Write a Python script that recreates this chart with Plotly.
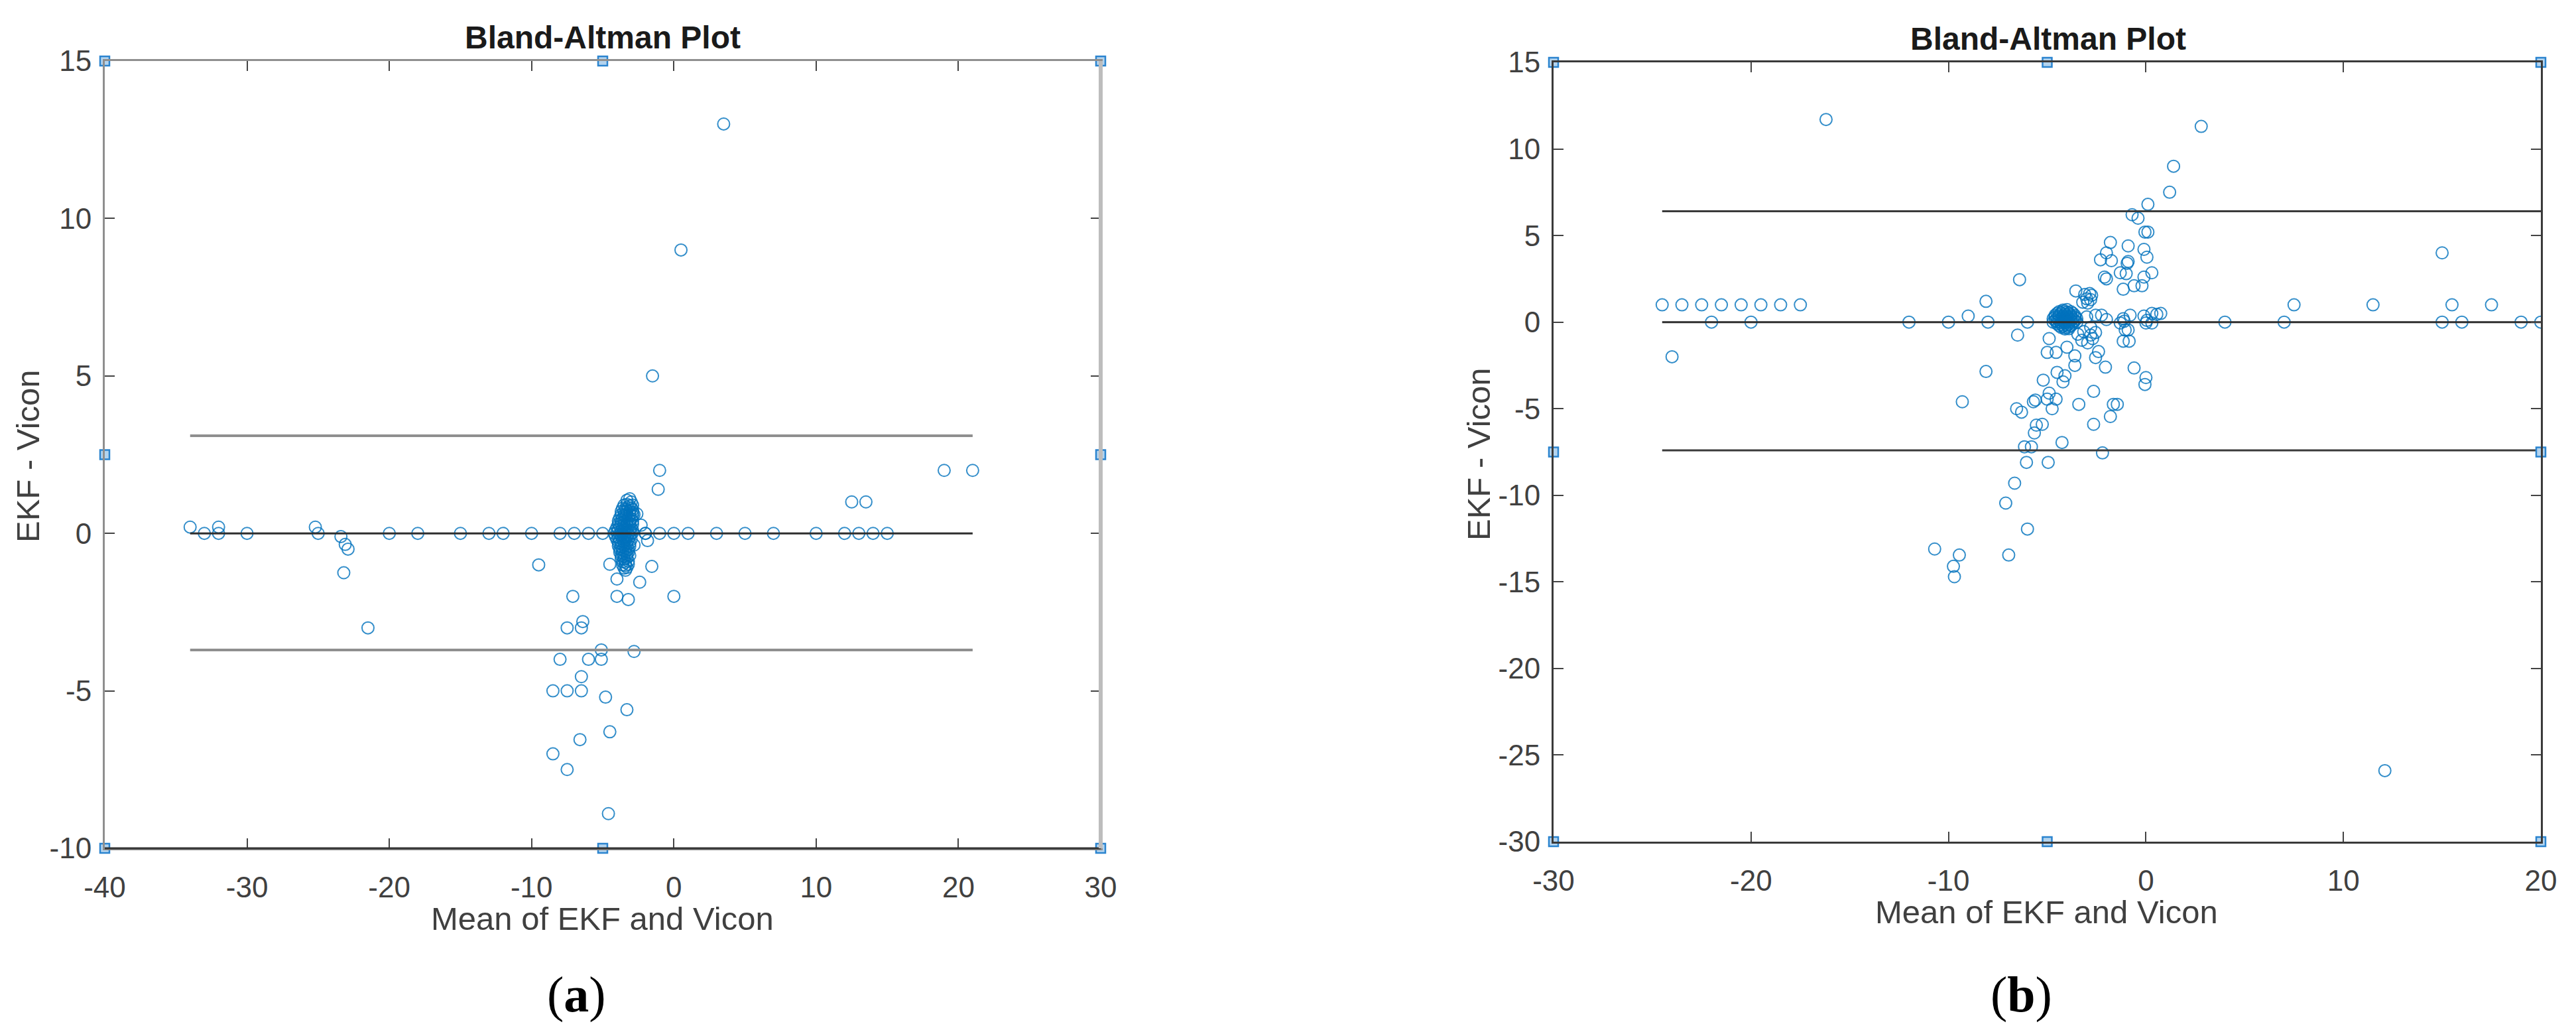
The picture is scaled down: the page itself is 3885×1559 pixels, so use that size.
import plotly.graph_objects as go

# ---------------- data: panel (a) ----------------
a_x = [3.5, 0.5, -1.5, -1.0, -1.1, 19, 21, 12.5, 13.5,
       -33, -32, -30, -25, -20, -18, -15, -13, -12, -10, -8, -7, -6, -5,
       -2, -1, 0, 1, 3, 5, 7, 10, 12, 13, 14, 15,
       -34, -32, -25.2, -23.4, -23.1, -22.9, -23.2, -21.5,
       -9.5, -7.1, -7.5, -6.4, -6.5, -8.0, -6.0, -5.1, -5.1, -6.5,
       -8.5, -7.5, -6.5, -4.8, -3.3, -4.5, -6.6, -8.5, -7.5, -4.6,
       -2.8, 0.0, -4.0, -3.2, -4.0, -2.4, -1.55, -4.5, -1.85, -2.3,
       -2.0, -2.8, -2.6, -3.4]
a_y = [13, 9, 5, 2, 1.4, 2, 2, 1, 1,
       0, 0, 0, 0, 0, 0, 0, 0, 0, 0, 0, 0, 0, 0,
       0, 0, 0, 0, 0, 0, 0, 0, 0, 0, 0, 0,
       0.2, 0.2, 0.2, -0.1, -0.35, -0.5, -1.25, -3.0,
       -1.0, -2.0, -3.0, -2.8, -3.0, -4.0, -4.0, -3.7, -4.0, -4.55,
       -5.0, -5.0, -5.0, -5.2, -5.6, -6.3, -6.55, -7.0, -7.5, -8.9,
       -3.75, -2.0, -2.0, -2.1, -1.45, -1.55, -1.05, -0.98, -0.23, 0.26,
       0.0, -0.37, 0.62, -1.17]

# dense cluster of panel (a)
a_cx = [-3.3, -3.1, -3.0, -3.5, -3.3, -3.1, -2.9, -3.6, -3.4, -3.2, -3.0, -2.9,
        -3.7, -3.5, -3.3, -3.1, -2.9, -3.7, -3.5, -3.3, -3.1, -2.9, -2.8,
        -3.8, -3.6, -3.4, -3.2, -3.0, -3.9, -3.7, -3.5, -3.3, -3.1, -2.9,
        -3.9, -3.7, -3.5, -3.3, -3.1, -2.9, -4.0, -3.8, -3.6, -3.4, -3.2, -3.0,
        -4.1, -3.9, -3.7, -3.5, -3.3, -3.1, -2.9,
        -4.2, -4.0, -3.8, -3.6, -3.4, -3.2, -3.0, -2.9,
        -4.1, -3.9, -3.7, -3.5, -3.3, -3.1, -4.0, -3.8, -3.6, -3.4, -3.2, -3.0,
        -3.9, -3.7, -3.5, -3.3, -3.1, -3.9, -3.7, -3.5, -3.3, -3.1,
        -3.8, -3.6, -3.4, -3.2, -3.8, -3.6, -3.4, -3.2, -3.7, -3.5, -3.3, -3.1,
        -3.7, -3.5, -3.3, -3.6, -3.4, -3.2, -3.6, -3.4, -3.2, -3.5, -3.3]
a_cy = [1.05, 1.1, 1.0, 0.9, 0.92, 0.88, 0.9, 0.8, 0.78, 0.82, 0.8, 0.75,
        0.7, 0.68, 0.72, 0.7, 0.66, 0.6, 0.58, 0.62, 0.6, 0.57, 0.6,
        0.5, 0.48, 0.52, 0.5, 0.47, 0.4, 0.42, 0.38, 0.4, 0.41, 0.39,
        0.3, 0.32, 0.28, 0.3, 0.31, 0.29, 0.2, 0.22, 0.18, 0.2, 0.21, 0.19,
        0.1, 0.12, 0.08, 0.1, 0.11, 0.09, 0.1,
        0.0, 0.02, -0.02, 0.0, 0.01, -0.01, 0.0, 0.02,
        -0.1, -0.12, -0.08, -0.1, -0.11, -0.09, -0.2, -0.22, -0.18, -0.2, -0.21, -0.19,
        -0.3, -0.32, -0.28, -0.3, -0.31, -0.4, -0.42, -0.38, -0.4, -0.41,
        -0.5, -0.52, -0.48, -0.5, -0.6, -0.62, -0.58, -0.6, -0.7, -0.72, -0.68, -0.7,
        -0.8, -0.82, -0.78, -0.9, -0.92, -0.88, -1.0, -1.02, -0.98, -1.1, -1.08]

a_bias = 0.0
a_upper = 3.1
a_lower = -3.7
a_span = [-34, 21]

# ---------------- data: panel (b) ----------------
b_x = [-16.2, 2.8, 1.4, 1.2, 0.1, -0.7, -0.4, -0.05, 0.1, -1.8, -0.9, -0.1, -2.0,
       -2.3, -1.75, -0.9, -0.95, 0.05, -1.3, -1.0, -2.1, -2.0, 0.3, -0.1, -0.6,
       -0.2, -1.15, -6.4, -3.55, -3.1, -2.85, -3.0, -3.2, -2.8, -2.95, -2.75,
       -8.1, -9.0,
       -24.5, -23.5, -22.5, -21.5, -20.5, -19.5, -18.5, -17.5, 7.5, 11.5, 15.5, 17.5,
       -22, -20, -12, -10, -8, -6, 4, 7, 15, 16, 19, 20,
       15, -24, 12.1,
       -6.5, -4.9, -5.0, -4.55, -4.0, -3.6, -3.6, -2.55, -2.4, -2.05, -1.15, -0.85,
       -1.05, -0.6, 0.0, -0.05, -8.1, -5.2, -4.5, -4.1, -4.2, -9.3, -4.9, -5.0,
       -5.7, -5.6, -4.55, -2.65, -3.4, -1.65, -1.45, -4.75, -6.55, -6.3, -1.8,
       -2.65, -5.55, -5.25, -5.65, -4.25, -6.15, -5.8, -2.2, -6.05, -4.95, -6.65,
       -7.1, -6.0, -10.7, -9.45, -6.95, -9.75, -9.7,
       -3.0, -2.55, -2.25, -2.0, -1.15, -0.8, -0.1, 0.3, 0.75, 0.3, 0.05, -1.3,
       -2.8, -2.8, -3.25, -2.95, -2.7, -3.45, -3.15, -2.55, -1.1, 0.0, -0.9, 0.55]
b_y = [11.7, 11.3, 9.0, 7.5, 6.8, 6.2, 6.0, 5.2, 5.2, 4.6, 4.4, 4.2, 4.0,
       3.6, 3.55, 3.5, 3.4, 3.75, 2.85, 2.8, 2.6, 2.5, 2.85, 2.6, 2.1,
       2.1, 1.9, 2.45, 1.8, 1.6, 1.65, 1.35, 1.15, 1.3, 1.1, 1.55,
       1.2, 0.35,
       1, 1, 1, 1, 1, 1, 1, 1, 1, 1, 1, 1,
       0, 0, 0, 0, 0, 0, 0, 0, 0, 0, 0, 0,
       4.0, -2.0, -25.9,
       -0.75, -0.95, -1.75, -1.75, -1.45, -1.95, -2.5, -2.05, -1.7, -2.6, -1.1, -1.1,
       -0.45, -2.65, -3.2, -3.6, -2.85, -3.35, -2.9, -3.1, -3.45, -4.6, -4.1, -4.45,
       -4.6, -4.5, -4.45, -4.0, -4.75, -4.75, -4.75, -5.0, -5.0, -5.2, -5.45,
       -5.9, -5.95, -5.9, -6.4, -6.95, -7.2, -7.2, -7.55, -8.1, -8.1, -9.3,
       -10.45, -11.95, -13.1, -13.45, -13.45, -14.1, -14.7,
       0.3, 0.4, 0.4, 0.15, 0.2, 0.4, 0.35, 0.5, 0.5, -0.05, 0.1, -0.05,
       -0.3, -0.75, -1.05, -1.2, -0.95, -0.7, -0.55, -0.6, 0.05, -0.05, -0.45, 0.45]

# dense cluster of panel (b)
b_cx = [-4.2, -4.0, -4.4, -4.2, -4.0, -3.8, -4.5, -4.3, -4.1, -3.9, -3.7,
        -4.6, -4.4, -4.2, -4.0, -3.8, -3.6, -4.6, -4.4, -4.2, -4.0, -3.8, -3.6,
        -4.7, -4.5, -4.3, -4.1, -3.9, -3.7, -3.5, -4.6, -4.4, -4.2, -4.0, -3.8, -3.6,
        -4.7, -4.5, -4.3, -4.1, -3.9, -3.7, -3.5, -4.5, -4.3, -4.1, -3.9, -3.7,
        -4.4, -4.2, -4.0, -3.8, -4.3, -4.1, -3.9, -4.1, -3.9]
b_cy = [0.7, 0.72, 0.6, 0.62, 0.58, 0.6, 0.5, 0.52, 0.48, 0.5, 0.51,
        0.4, 0.42, 0.38, 0.4, 0.41, 0.39, 0.3, 0.32, 0.28, 0.3, 0.31, 0.29,
        0.2, 0.22, 0.18, 0.2, 0.21, 0.19, 0.2, 0.1, 0.12, 0.08, 0.1, 0.11, 0.09,
        0.0, 0.02, -0.02, 0.0, 0.01, -0.01, 0.0, -0.1, -0.12, -0.08, -0.1, -0.11,
        -0.2, -0.22, -0.18, -0.2, -0.3, -0.32, -0.28, -0.4, -0.38]

b_bias = 0.0
b_upper = 6.4
b_lower = -7.4
b_span = [-24.5, 20]

# selection handles drawn by MATLAB on the axes box
a_hx = [-40, -5, 30, -40, 30, -40, -5, 30]
a_hy = [15, 15, 15, 2.5, 2.5, -10, -10, -10]
b_hx = [-30, -5, 20, -30, 20, -30, -5, 20]
b_hy = [15, 15, 15, -7.5, -7.5, -30, -30, -30]

a_xticks = [-40, -30, -20, -10, 0, 10, 20, 30]
a_yticks = [-10, -5, 0, 5, 10, 15]
b_xticks = [-30, -20, -10, 0, 10, 20]
b_yticks = [-30, -25, -20, -15, -10, -5, 0, 5, 10, 15]

W, H = 3885, 1559
OFF = 8  # the page body adds an 8 px margin around the plot div
BLUE = '#0072BD'
FONT = 'Liberation Sans'


def px(v):
    return (v - OFF) / W


def py(v):
    return 1 - (v - OFF) / H


fig = go.Figure()

marker = dict(symbol='circle-open', size=18, color=BLUE,
              line=dict(width=2, color=BLUE), opacity=0.8)
handle = dict(symbol='square', size=14, color='#b3d3ee',
              line=dict(width=2.5, color='#2b84cf'))


def add_panel(xs, ys, cx, cy, span, bias, up, lo, hx, hy, xa, ya, lim_color, lim_w):
    fig.add_trace(go.Scatter(x=xs + cx, y=ys + cy, mode='markers', marker=marker,
                             xaxis=xa, yaxis=ya, showlegend=False))
    for v, col, w in [(up, lim_color, lim_w), (bias, '#2e2e2e', 3), (lo, lim_color, lim_w)]:
        fig.add_trace(go.Scatter(x=span, y=[v, v], mode='lines',
                                 line=dict(color=col, width=w),
                                 xaxis=xa, yaxis=ya, showlegend=False))
    fig.add_trace(go.Scatter(x=hx, y=hy, mode='markers', marker=handle,
                             cliponaxis=False, xaxis=xa, yaxis=ya, showlegend=False))


add_panel(a_x, a_y, a_cx, a_cy, a_span, a_bias, a_upper, a_lower,
          a_hx, a_hy, 'x', 'y', '#8f8f8f', 4)
add_panel(b_x, b_y, b_cx, b_cy, b_span, b_bias, b_upper, b_lower,
          b_hx, b_hy, 'x2', 'y2', '#3a3a3a', 3)

tickfont = dict(family=FONT, size=44, color='#404040')


def xaxis(dom, rng, ticks, anchor, lc):
    return dict(domain=dom, range=rng, tickvals=ticks, ticktext=[str(t) for t in ticks],
                ticks='inside', ticklen=15, tickwidth=2, tickcolor='#444',
                showline=True, linecolor=lc, linewidth=3, mirror='ticks',
                showgrid=False, zeroline=False, tickfont=tickfont, automargin=False,
                ticklabelstandoff=18, anchor=anchor, fixedrange=True)


def yaxis(dom, rng, ticks, anchor, lc):
    return dict(domain=dom, range=rng, tickvals=ticks, ticktext=[str(t) for t in ticks],
                ticks='inside', ticklen=15, tickwidth=2, tickcolor='#444',
                showline=True, linecolor=lc, linewidth=3, mirror='ticks',
                showgrid=False, zeroline=False, tickfont=tickfont, automargin=False,
                ticklabelstandoff=8, anchor=anchor, fixedrange=True)


fig.update_layout(
    template='none',
    width=W, height=H,
    margin=dict(l=0, r=0, t=0, b=0, pad=0, autoexpand=False),
    paper_bgcolor='white', plot_bgcolor='white',
    xaxis=xaxis([px(158), px(1660)], [-40, 30], a_xticks, 'y', '#8f8f8f'),
    yaxis=yaxis([py(1279), py(92)], [-10, 15], a_yticks, 'x', '#8f8f8f'),
    xaxis2=xaxis([px(2343), px(3832)], [-30, 20], b_xticks, 'y2', '#3a3a3a'),
    yaxis2=yaxis([py(1269), py(94)], [-30, 15], b_yticks, 'x2', '#3a3a3a'),
)

# panel (a) box edges differ in tone in the original
fig.add_shape(type='line', xref='x domain', yref='y domain', x0=0, x1=1, y0=0, y1=0,
              line=dict(color='#333333', width=3))
fig.add_shape(type='line', xref='x domain', yref='y domain', x0=1, x1=1, y0=0, y1=1,
              line=dict(color='#bdbdbd', width=6))

title_font = dict(family=FONT, size=48, color='#1a1a1a')
label_font = dict(family=FONT, size=49, color='#404040')
panel_font = dict(family='Liberation Serif', size=76, color='black')
ann = [
    dict(text='<b>Bland-Altman Plot</b>', x=px(909), y=py(57), font=title_font),
    dict(text='<b>Bland-Altman Plot</b>', x=px(3089), y=py(59), font=title_font),
    dict(text='Mean of EKF and Vicon', x=px(908), y=py(1385), font=label_font),
    dict(text='Mean of EKF and Vicon', x=px(3086), y=py(1375), font=label_font),
    dict(text='EKF - Vicon', x=px(42), y=py(688), font=label_font, textangle=-90),
    dict(text='EKF - Vicon', x=px(2230), y=py(685), font=label_font, textangle=-90),
    dict(text='(<b>a</b>)', x=px(869), y=py(1499), font=panel_font),
    dict(text='(<b>b</b>)', x=px(3048), y=py(1499), font=panel_font),
]
for a in ann:
    fig.add_annotation(xref='paper', yref='paper', showarrow=False,
                       xanchor='center', yanchor='middle', **a)

fig.write_html('out.html')
